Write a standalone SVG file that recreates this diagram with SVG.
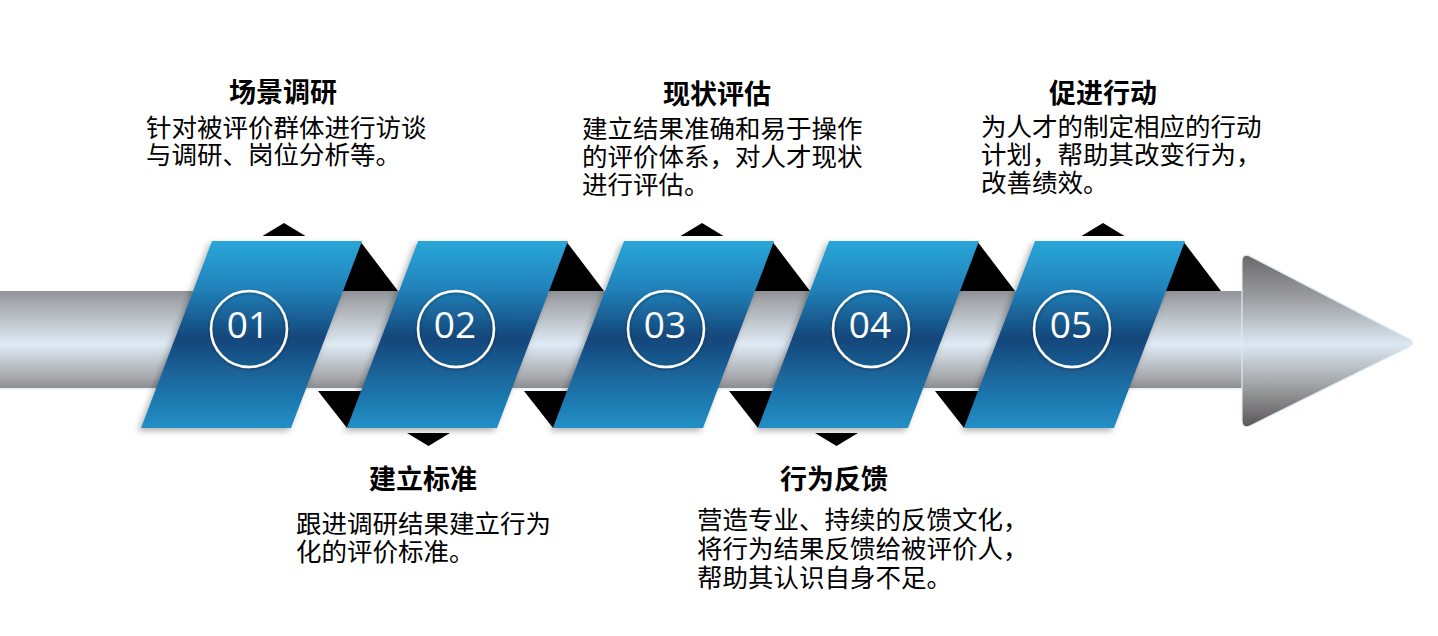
<svg xmlns="http://www.w3.org/2000/svg" width="1438" height="636" viewBox="0 0 1438 636">
<defs>
<linearGradient id="barG" x1="0" y1="0" x2="0" y2="1">
<stop offset="0" stop-color="#8f9296"/>
<stop offset="0.12" stop-color="#a6a9ad"/>
<stop offset="0.55" stop-color="#dfeaf4"/>
<stop offset="0.88" stop-color="#a9abaf"/>
<stop offset="1" stop-color="#8c8e92"/>
</linearGradient>
<linearGradient id="headG" x1="0" y1="0" x2="0" y2="1">
<stop offset="0" stop-color="#6b6769"/>
<stop offset="0.25" stop-color="#9b9da0"/>
<stop offset="0.52" stop-color="#dce8f2"/>
<stop offset="0.75" stop-color="#a2a4a7"/>
<stop offset="1" stop-color="#5a5658"/>
</linearGradient>
<linearGradient id="panelG" x1="0" y1="0" x2="0" y2="1">
<stop offset="0" stop-color="#2aa6d9"/>
<stop offset="0.25" stop-color="#2183bb"/>
<stop offset="0.52" stop-color="#15467a"/>
<stop offset="0.58" stop-color="#174f84"/>
<stop offset="0.78" stop-color="#1d6fa5"/>
<stop offset="1" stop-color="#218fc5"/>
</linearGradient>
<filter id="sh" x="-20%" y="-20%" width="140%" height="140%">
<feDropShadow dx="-3" dy="3" stdDeviation="3" flood-color="#000" flood-opacity="0.3"/>
</filter>
<filter id="csh" x="-30%" y="-30%" width="160%" height="160%">
<feDropShadow dx="0" dy="1" stdDeviation="1.5" flood-color="#000" flood-opacity="0.4"/>
</filter>
</defs>
<style>
.panel{fill:url(#panelG);filter:url(#sh)}
.fold{fill:#000}
.ptr{fill:#000}
.ring{fill:none;stroke:#fff;stroke-width:2.5;filter:url(#csh)}
.num{font-family:"Open Sans","Liberation Sans",sans-serif;font-size:37px;fill:#fff;text-anchor:middle}
.title{font-family:"Noto Sans CJK SC",sans-serif;font-weight:bold;font-size:27px;fill:#000;text-anchor:middle}
.body{font-family:"Noto Sans CJK SC",sans-serif;font-size:25.5px;fill:#000}
</style>
<rect width="1438" height="636" fill="#fff"/>

<g id="arrow">
<rect x="0" y="291" width="1252" height="97" fill="url(#barG)"/>
<rect x="0" y="388" width="1252" height="2" fill="#eef3f7"/>
<path d="M1242,262 Q1242,252 1250.9,256.6 L1408.1,338.4 Q1417,343 1408,347.5 L1250.9,425.5 Q1242,430 1242,420 Z" fill="url(#headG)" stroke="#dcecf6" stroke-width="1.2"/>
</g>

<g id="connectors">
<polygon class="ptr" points="284,223 262.5,236 305.5,236"/>
<polygon class="ptr" points="702,223 680.5,236 723.5,236"/>
<polygon class="ptr" points="1103,223 1081.5,236 1124.5,236"/>
<polygon class="ptr" points="407,433 450,433 428.5,446"/>
<polygon class="ptr" points="815,433 858,433 836.5,446"/>
</g>

<g id="folds">
<polygon class="fold" points="360,241 398,291 340,291"/>
<polygon class="fold" points="566,241 604,291 546,291"/>
<polygon class="fold" points="772,241 810,291 752,291"/>
<polygon class="fold" points="977,241 1015,291 957,291"/>
<polygon class="fold" points="1183,241 1221,291 1163,291"/>
<polygon class="fold" points="318,391 365,391 347,428"/>
<polygon class="fold" points="524,391 571,391 553,428"/>
<polygon class="fold" points="729,391 776,391 758,428"/>
<polygon class="fold" points="935,391 982,391 964,428"/>
</g>

<g id="node1">
<polygon class="panel" points="212,241 362,241 291,428 141,428"/>
<circle class="ring" cx="249" cy="329" r="38"/>
<text class="num" x="248" y="338">01</text>
<text class="title" x="283" y="102">场景调研</text>
<text class="body" x="146" y="136.7">针对被评价群体进行访谈</text>
<text class="body" x="146" y="164.2">与调研、岗位分析等。</text>
</g>
<g id="node2">
<polygon class="panel" points="418,241 568,241 497,428 347,428"/>
<circle class="ring" cx="456" cy="329" r="38"/>
<text class="num" x="455" y="338">02</text>
<text class="title" x="423" y="489">建立标准</text>
<text class="body" x="296" y="532.7">跟进调研结果建立行为</text>
<text class="body" x="296" y="561">化的评价标准。</text>
</g>
<g id="node3">
<polygon class="panel" points="624,241 774,241 703,428 553,428"/>
<circle class="ring" cx="666" cy="329" r="38"/>
<text class="num" x="665" y="338">03</text>
<text class="title" x="717" y="103.5">现状评估</text>
<text class="body" x="582" y="137.7">建立结果准确和易于操作</text>
<text class="body" x="582" y="165.7">的评价体系，对人才现状</text>
<text class="body" x="582" y="194">进行评估。</text>
</g>
<g id="node4">
<polygon class="panel" points="829,241 979,241 908,428 758,428"/>
<circle class="ring" cx="871" cy="329" r="38"/>
<text class="num" x="870" y="338">04</text>
<text class="title" x="834" y="489">行为反馈</text>
<text class="body" x="697" y="528.7">营造专业、持续的反馈文化，</text>
<text class="body" x="697" y="557.7">将行为结果反馈给被评价人，</text>
<text class="body" x="697" y="586.7">帮助其认识自身不足。</text>
</g>
<g id="node5">
<polygon class="panel" points="1035,241 1185,241 1114,428 964,428"/>
<circle class="ring" cx="1072" cy="329" r="38"/>
<text class="num" x="1071" y="338">05</text>
<text class="title" x="1103" y="102.5">促进行动</text>
<text class="body" x="981" y="135.7">为人才的制定相应的行动</text>
<text class="body" x="981" y="163.7">计划，帮助其改变行为，</text>
<text class="body" x="981" y="192">改善绩效。</text>
</g>
</svg>
